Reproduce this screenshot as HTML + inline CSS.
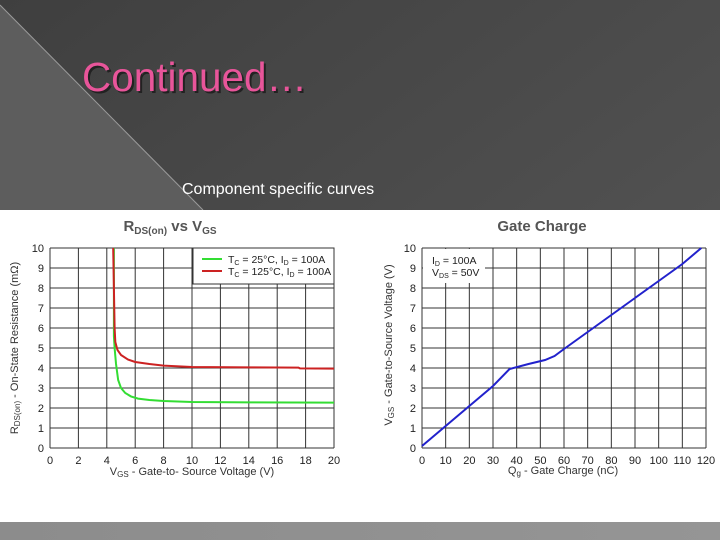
<!DOCTYPE html>
<html><head><meta charset="utf-8"><style>
html,body{margin:0;padding:0;width:720px;height:540px;overflow:hidden;background:#4a4a4a}
svg{display:block;font-family:"Liberation Sans",sans-serif}
</style></head><body>
<svg id="s" width="720" height="540" viewBox="0 0 720 540">
<defs>
<linearGradient id="bg" x1="0" y1="0" x2="1" y2="1"><stop offset="0" stop-color="#3f3f3f"/><stop offset="1" stop-color="#595959"/></linearGradient>
<linearGradient id="bot" x1="0" y1="0" x2="1" y2="0"><stop offset="0" stop-color="#8c8c8c"/><stop offset="1" stop-color="#959595"/></linearGradient>
</defs>
<rect width="720" height="540" fill="url(#bg)"/>
<polygon points="0,5 203,210 0,210" fill="#5d5d5d"/>
<line x1="0" y1="5" x2="203" y2="210" stroke="#9a9a9a" stroke-width="1"/>
<text x="84" y="93" font-size="41" fill="#222" textLength="225" lengthAdjust="spacingAndGlyphs">Continued…</text>
<text x="82" y="91" font-size="41" fill="#e8559a" textLength="225" lengthAdjust="spacingAndGlyphs">Continued…</text>
<text x="182" y="194" font-size="16" fill="#fff">Component specific curves</text>
<rect x="0" y="210" width="720" height="312" fill="#fff"/>
<rect x="0" y="522" width="720" height="18" fill="url(#bot)"/>
<g id="c1"></g>
<g id="c2"></g>
</svg>
<script>
const rdsXTicks=[0,2,4,6,8,10,12,14,16,18,20];
const yTicks=[0,1,2,3,4,5,6,7,8,9,10];
const rdsGreenX=[4.5,4.5,4.55,4.65,4.8,5.0,5.3,5.7,6.2,7,8,10,14,20];
const rdsGreenY=[10,5.6,5.0,4.2,3.4,3.0,2.75,2.58,2.47,2.4,2.35,2.3,2.28,2.27];
const rdsRedX=[4.45,4.5,4.55,4.6,4.75,5.0,5.5,6,7,8,10,14,17.5,17.6,20];
const rdsRedY=[10,8,6,5.3,4.9,4.65,4.42,4.3,4.2,4.12,4.05,4.03,4.02,3.98,3.97];
const gcXTicks=[0,10,20,30,40,50,60,70,80,90,100,110,120];
const gcX=[0,10,20,30,37,45,52,56,60,70,80,90,100,110,118];
const gcY=[0.1,1.1,2.1,3.1,3.95,4.2,4.4,4.6,4.95,5.8,6.65,7.5,8.35,9.2,10];
const NS="http://www.w3.org/2000/svg";
function mk(p,t,a,txt){const e=document.createElementNS(NS,t);for(const k in a)e.setAttribute(k,a[k]);if(txt!==undefined)e.textContent=txt;p.appendChild(e);return e;}
function chart(g,x0,x1,xmax,xt){
 const y0=448,y1=248;
 const sx=v=>x0+(x1-x0)*v/xmax, sy=v=>y0-(y0-y1)*v/10;
 xt.forEach(v=>{const l=mk(g,'line',{x1:sx(v),x2:sx(v),y1:y1,y2:y0,stroke:'#333','stroke-width':1});
  
  
  const t=mk(g,'text',{x:sx(v),y:y0+16,'font-size':11,'text-anchor':'middle',fill:'#222'},v);
  
  });
 yTicks.forEach(v=>{const l=mk(g,'line',{x1:x0,x2:x1,y1:sy(v),y2:sy(v),stroke:'#333','stroke-width':1});
  
  
  const t=mk(g,'text',{x:x0-6,y:sy(v)+4,'font-size':11,'text-anchor':'end',fill:'#222'},v);
  
  });
 return {sx,sy};
}
function line(g,sx,sy,xs,ys,col,name){
 const p=mk(g,'polyline',{points:xs.map((x,i)=>sx(x)+','+sy(ys[i])).join(' '),fill:'none',stroke:col,'stroke-width':2});
 
 
}
const c1=document.getElementById('c1');
const a=chart(c1,50,334,20,rdsXTicks);
let e=mk(c1,'rect',{x:193,y:248,width:141,height:36,fill:'#fff',stroke:'#333'});


line(c1,a.sx,a.sy,rdsGreenX,rdsGreenY,'#33dd33','series-25c');
line(c1,a.sx,a.sy,rdsRedX,rdsRedY,'#cc2222','series-125c');
e=mk(c1,'line',{x1:202,x2:222,y1:259,y2:259,stroke:'#33dd33','stroke-width':2});


e=mk(c1,'line',{x1:202,x2:222,y1:271,y2:271,stroke:'#cc2222','stroke-width':2});


e=mk(c1,'text',{x:228,y:263,'font-size':10.5,fill:'#222'});
e.innerHTML='T<tspan font-size="7" dy="2">C</tspan><tspan dy="-2"> = 25°C, I</tspan><tspan font-size="7" dy="2">D</tspan><tspan dy="-2"> = 100A</tspan>';


e=mk(c1,'text',{x:228,y:275,'font-size':10.5,fill:'#222'});
e.innerHTML='T<tspan font-size="7" dy="2">C</tspan><tspan dy="-2"> = 125°C, I</tspan><tspan font-size="7" dy="2">D</tspan><tspan dy="-2"> = 100A</tspan>';


e=mk(c1,'text',{x:170,y:231,'font-size':15,'text-anchor':'middle',fill:'#555','font-weight':'bold'});
e.innerHTML='R<tspan font-size="10" dy="3">DS(on)</tspan><tspan dy="-3"> vs V</tspan><tspan font-size="10" dy="3">GS</tspan>';


e=mk(c1,'text',{x:192,y:475,'font-size':11,'text-anchor':'middle',fill:'#333'});
e.innerHTML='V<tspan font-size="8" dy="2">GS</tspan><tspan dy="-2"> - Gate-to- Source Voltage (V)</tspan>';


e=mk(c1,'text',{x:0,y:0,'font-size':11,'text-anchor':'middle',fill:'#333',transform:'translate(18,348) rotate(-90)'});
e.innerHTML='R<tspan font-size="8" dy="2">DS(on)</tspan><tspan dy="-2"> - On-State Resistance  (mΩ)</tspan>';



const c2=document.getElementById('c2');
const b=chart(c2,422,706,120,gcXTicks);
e=mk(c2,'rect',{x:423,y:249,width:62,height:34,fill:'#fff'});


line(c2,b.sx,b.sy,gcX,gcY,'#2222cc','series-vgs');
e=mk(c2,'text',{x:432,y:264,'font-size':10.5,fill:'#222'});
e.innerHTML='I<tspan font-size="7" dy="2">D</tspan><tspan dy="-2"> = 100A</tspan>';


e=mk(c2,'text',{x:432,y:276,'font-size':10.5,fill:'#222'});
e.innerHTML='V<tspan font-size="7" dy="2">DS</tspan><tspan dy="-2"> = 50V</tspan>';


e=mk(c2,'text',{x:542,y:231,'font-size':15,'text-anchor':'middle',fill:'#555','font-weight':'bold'},'Gate Charge');


e=mk(c2,'text',{x:563,y:474,'font-size':11,'text-anchor':'middle',fill:'#333'});
e.innerHTML='Q<tspan font-size="8" dy="2">g</tspan><tspan dy="-2"> - Gate Charge  (nC)</tspan>';


e=mk(c2,'text',{x:0,y:0,'font-size':11,'text-anchor':'middle',fill:'#333',transform:'translate(392,345) rotate(-90)'});
e.innerHTML='V<tspan font-size="8" dy="2">GS</tspan><tspan dy="-2"> - Gate-to-Source Voltage (V)</tspan>';


</script>
</body></html>
